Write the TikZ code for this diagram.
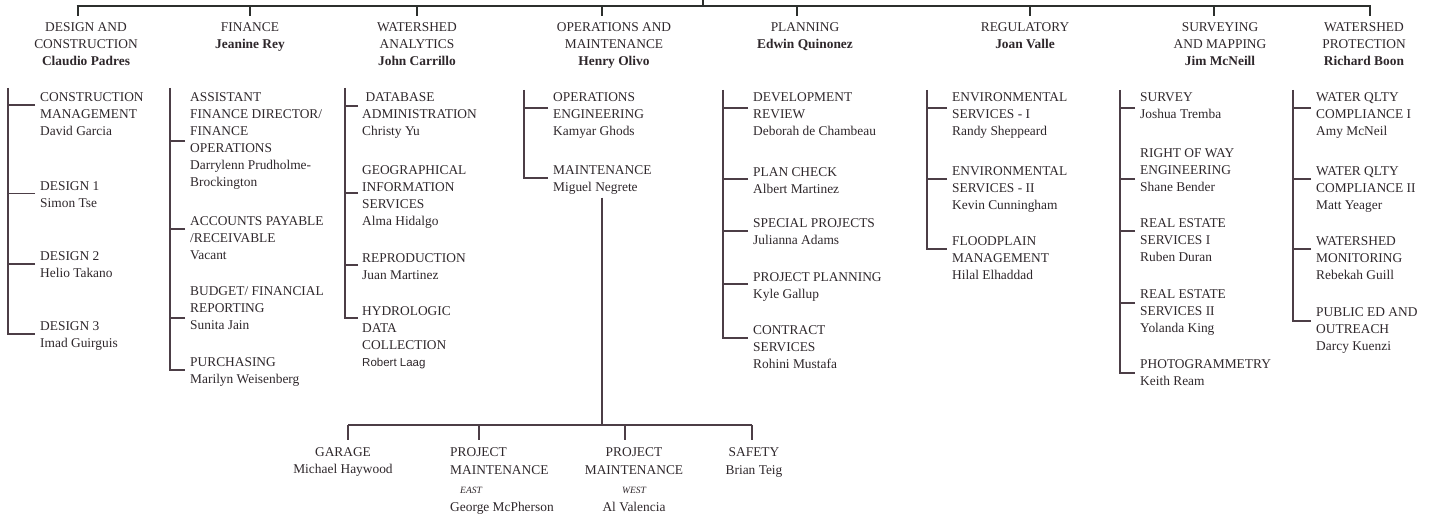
\documentclass[tikz,border=0pt]{standalone}
\usepackage{fontspec}
\setmainfont{Liberation Serif}
\setsansfont{Liberation Sans}
\usetikzlibrary{calc}

\definecolor{ink}{RGB}{46,39,43}
\definecolor{rulec}{RGB}{76,62,70}
\definecolor{barc}{RGB}{44,47,45}

\begin{document}
\begin{tikzpicture}[
                x=1pt, y=-1pt,
                every node/.style={inner sep=0pt, text=ink, font=\fontsize{13.4}{17}\selectfont},
                head/.style={anchor=north, align=center},
                item/.style={anchor=north west, align=left},
                sub/.style={anchor=north, align=center},
                bar/.style={draw=barc, line width=2.8pt},
                branch/.style={draw=rulec, line width=1.6pt}
                ]
                \useasboundingbox (0,0) rectangle (1438,518);
                % Top bar
                \coordinate (top) at (703,0);
                \coordinate (d1) at (78,6);
                \coordinate (d2) at (250,6);
                \coordinate (d3) at (417,6);
                \coordinate (d4) at (602,6);
                \coordinate (d5) at (797,6);
                \coordinate (d6) at (1030,6);
                \coordinate (d7) at (1214,6);
                \coordinate (d8) at (1370,6);
                \draw[bar] ([xshift=-1.4pt]d1) -- ([xshift=1.4pt]d8);
                \draw[bar] (top) -- (top |- d1);
                \foreach \i in {1,...,8}
                  \draw[bar] (d\i) -- ++(0,10);

                % Divisions
                \node[head] (dch) at (86,22.5) {DESIGN AND\\CONSTRUCTION\\\textbf{Claudio Padres}};
                \node[head] (fih) at (250,22.5) {FINANCE\\\textbf{Jeanine Rey}};
                \node[head] (wah) at (417,22.5) {WATERSHED\\ANALYTICS\\\textbf{John Carrillo}};
                \node[head] (omh) at (614,22.5) {OPERATIONS AND\\MAINTENANCE\\\textbf{Henry Olivo}};
                \node[head] (plh) at (805,22.5) {PLANNING\\\textbf{Edwin Quinonez}};
                \node[head] (rgh) at (1025,22.5) {REGULATORY\\\textbf{Joan Valle}};
                \node[head] (smh) at (1220,22.5) {SURVEYING\\AND MAPPING\\\textbf{Jim McNeill}};
                \node[head] (wph) at (1364,22.5) {WATERSHED\\PROTECTION\\\textbf{Richard Boon}};

                % Design and Construction
                \coordinate (dc) at (8,88);
                \node[item] (cm) at (40,92.5) {CONSTRUCTION\\MANAGEMENT\\David Garcia};
                \node[item] (ds1) at (40,181.5) {DESIGN 1\\Simon Tse};
                \node[item] (ds2) at (40,251.5) {DESIGN 2\\Helio Takano};
                \node[item] (ds3) at (40,321.5) {DESIGN 3\\Imad Guirguis};
                \draw[branch] (dc) |- ($(ds3.north west)+(-5,12.5)$);
                \foreach \n/\d in {cm/12.5,ds1/12,ds2/12.5}
                  \draw[branch] ($(\n.north west)+(-5,\d)$) coordinate (t) -- (t -| dc);

                % Finance
                \coordinate (fi) at (170,88);
                \node[item] (fo) at (190,92.5) {ASSISTANT\\FINANCE DIRECTOR/\\FINANCE\\OPERATIONS\\Darrylenn Prudholme-\\Brockington};
                \node[item] (ap) at (190,216.5) {ACCOUNTS PAYABLE\\/RECEIVABLE\\Vacant};
                \node[item] (bf) at (190,286.5) {BUDGET/ FINANCIAL\\REPORTING\\Sunita Jain};
                \node[item] (pu) at (190,357.5) {PURCHASING\\Marilyn Weisenberg};
                \draw[branch] (fi) |- ($(pu.north west)+(-5,12.5)$);
                \foreach \n/\d in {fo/48.5,ap/12.5,bf/31.5}
                  \draw[branch] ($(\n.north west)+(-5,\d)$) coordinate (t) -- (t -| fi);

                % Watershed Analytics
                \coordinate (wa) at (345,88);
                \node[item] (db) at (362,92.5) {\ DATABASE\\ADMINISTRATION\\Christy Yu};
                \node[item] (gis) at (362,165.5) {GEOGRAPHICAL\\INFORMATION\\SERVICES\\Alma Hidalgo};
                \node[item] (rp) at (362,253.5) {REPRODUCTION\\Juan Martinez};
                \node[item] (hd) at (362,306.5) {HYDROLOGIC\\DATA\\COLLECTION\\{\sffamily\fontsize{11.5}{17}\selectfont Robert Laag}};
                \draw[branch] (wa) |- ($(hd.north west)+(-4,11.5)$);
                \foreach \n/\d in {db/13.5,gis/27.5,rp/11.5}
                  \draw[branch] ($(\n.north west)+(-4,\d)$) coordinate (t) -- (t -| wa);

                % Operations and Maintenance
                \coordinate (om) at (524,90);
                \node[item] (oe) at (553,92.5) {OPERATIONS\\ENGINEERING\\Kamyar Ghods};
                \node[item] (mn) at (553,165.5) {MAINTENANCE\\Miguel Negrete};
                \draw[branch] (om) |- ($(mn.north west)+(-5,12.5)$);
                \draw[branch] ($(oe.north west)+(-5,15.5)$) coordinate (t) -- (t -| om);

                % Planning
                \coordinate (pl) at (723,90);
                \node[item] (dr) at (753,92.5) {DEVELOPMENT\\REVIEW\\Deborah de Chambeau};
                \node[item] (pc) at (753,167.5) {PLAN CHECK\\Albert Martinez};
                \node[item] (sp) at (753,218.5) {SPECIAL PROJECTS\\Julianna Adams};
                \node[item] (pp) at (753,272.5) {PROJECT PLANNING\\Kyle Gallup};
                \node[item] (cs) at (753,325.5) {CONTRACT\\SERVICES\\Rohini Mustafa};
                \draw[branch] (pl) |- ($(cs.north west)+(-5,12.5)$);
                \foreach \n/\d in {dr/15.5,pc/11.5,sp/12.5,pp/11.5}
                  \draw[branch] ($(\n.north west)+(-5,\d)$) coordinate (t) -- (t -| pl);

                % Regulatory
                \coordinate (rg) at (927,90);
                \node[item] (es1) at (952,92.5) {ENVIRONMENTAL\\SERVICES - I\\Randy Sheppeard};
                \node[item] (es2) at (952,166.5) {ENVIRONMENTAL\\SERVICES - II\\Kevin Cunningham};
                \node[item] (fm) at (952,236.5) {FLOODPLAIN\\MANAGEMENT\\Hilal Elhaddad};
                \draw[branch] (rg) |- ($(fm.north west)+(-5,12.5)$);
                \foreach \n/\d in {es1/15.5,es2/12.5}
                  \draw[branch] ($(\n.north west)+(-5,\d)$) coordinate (t) -- (t -| rg);

                % Surveying and Mapping
                \coordinate (sm) at (1120,90);
                \node[item] (sv) at (1140,92.5) {SURVEY\\Joshua Tremba};
                \node[item] (rw) at (1140,148.5) {RIGHT OF WAY\\ENGINEERING\\Shane Bender};
                \node[item] (re1) at (1140,218.5) {REAL ESTATE\\SERVICES I\\Ruben Duran};
                \node[item] (re2) at (1140,289.5) {REAL ESTATE\\SERVICES II\\Yolanda King};
                \node[item] (ph) at (1140,359.5) {PHOTOGRAMMETRY\\Keith Ream};
                \draw[branch] (sm) |- ($(ph.north west)+(-5,13.5)$);
                \foreach \n/\d in {sv/15.5,rw/30.5,re1/12.5,re2/13.5}
                  \draw[branch] ($(\n.north west)+(-5,\d)$) coordinate (t) -- (t -| sm);

                % Watershed Protection
                \coordinate (wp) at (1293,90);
                \node[item] (wq1) at (1316,92.5) {WATER QLTY\\COMPLIANCE I\\Amy McNeil};
                \node[item] (wq2) at (1316,166.5) {WATER QLTY\\COMPLIANCE II\\Matt Yeager};
                \node[item] (wm) at (1316,236.5) {WATERSHED\\MONITORING\\Rebekah Guill};
                \node[item] (pe) at (1316,307.5) {PUBLIC ED AND\\OUTREACH\\Darcy Kuenzi};
                \draw[branch] (wp) |- ($(pe.north west)+(-5,13.5)$);
                \foreach \n/\d in {wq1/15.5,wq2/12.5,wm/12.5}
                  \draw[branch] ($(\n.north west)+(-5,\d)$) coordinate (t) -- (t -| wp);

                % Maintenance sections
                \coordinate (ob) at (602,425);
                \coordinate (o1) at (348,425);
                \coordinate (o2) at (479,425);
                \coordinate (o3) at (625,425);
                \coordinate (o4) at (752,425);
                \draw[branch] (mn.south -| ob) ++(0,3) -- (ob);
                \draw[branch] (o1) -- (o4);
                \foreach \i in {1,...,4}
                  \draw[branch] (o\i) -- ++(0,15);
                \node[sub] (ga) at (343,447.5) {GARAGE\\Michael Haywood};
                \node[item] (pme) at (450,447.5) {PROJECT\\[1pt]MAINTENANCE\\[1.5pt]\hspace{10pt}{\itshape\fontsize{9.6}{17}\selectfont EAST}\\[1.5pt]George McPherson};
                \node[sub] (pmw) at (634,447.5) {PROJECT\\[1pt]MAINTENANCE\\[1.5pt]{\itshape\fontsize{9.6}{17}\selectfont WEST}\\[1.5pt]Al Valencia};
                \node[sub] (sa) at (754,447.5) {SAFETY\\[1pt]Brian Teig};
              \end{tikzpicture}
\end{document}
